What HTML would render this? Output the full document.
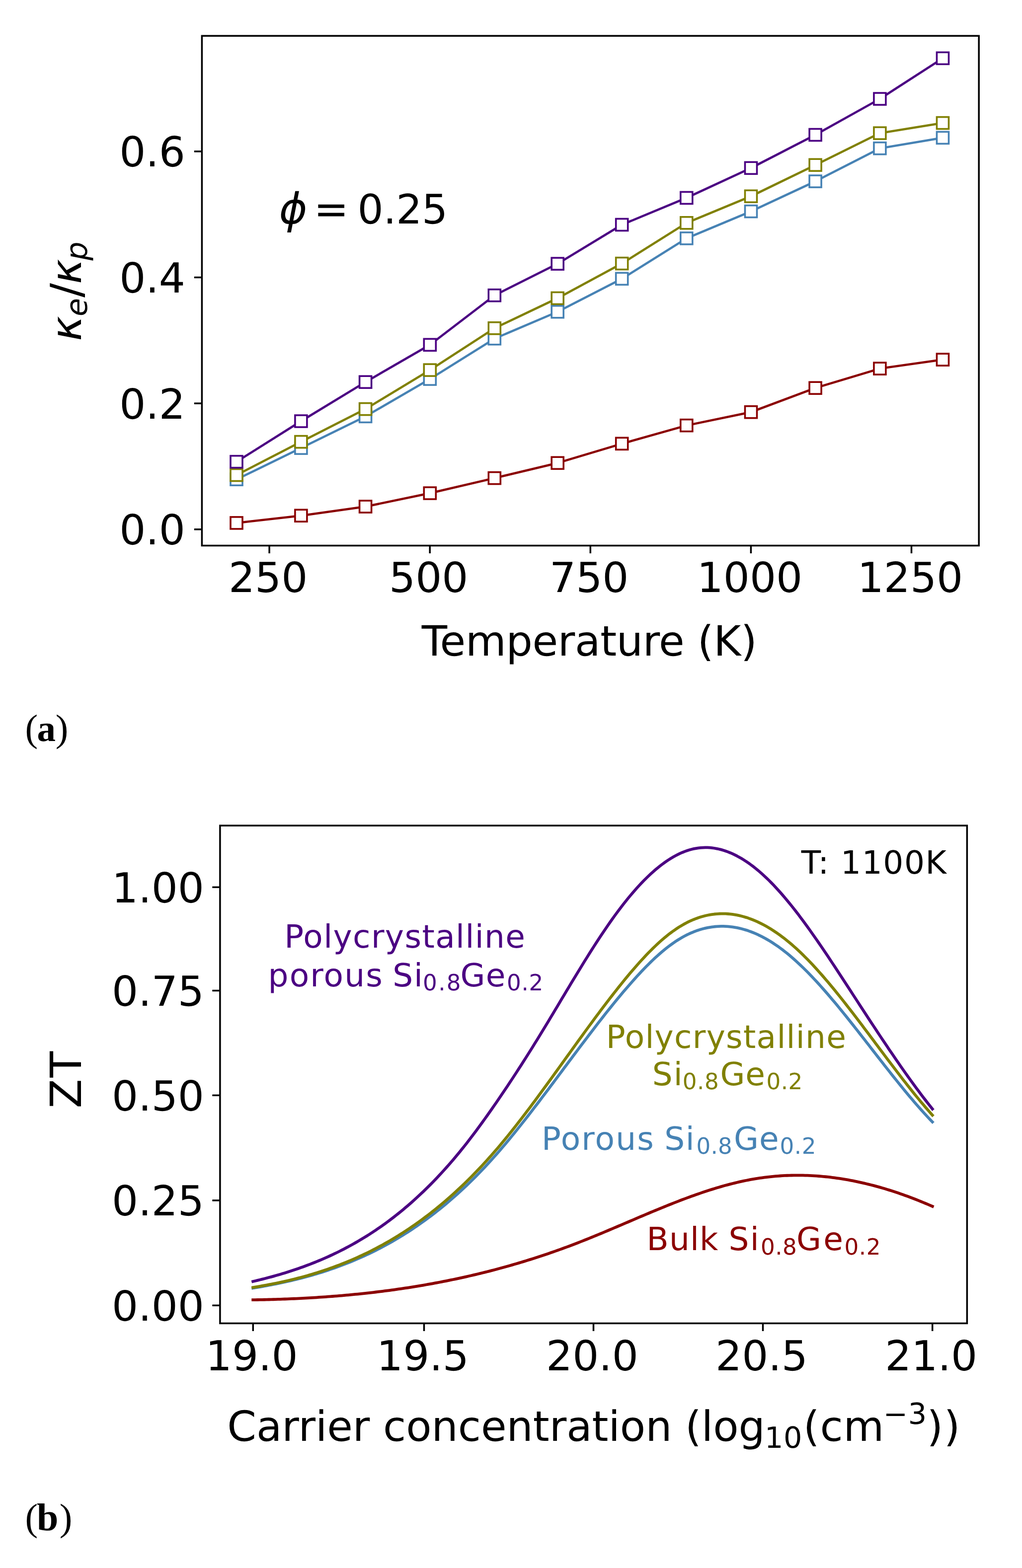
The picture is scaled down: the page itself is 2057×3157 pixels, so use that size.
<!DOCTYPE html>
<html><head><meta charset="utf-8"><title>Figure</title>
<style>
html,body{margin:0;padding:0;background:#fff;}
body{width:2057px;height:3157px;overflow:hidden;}
svg{display:block;}
.t{font-family:'DejaVu Sans', 'Liberation Sans', sans-serif;font-size:83.5px;fill:#000;}
.m{font-family:'DejaVu Sans', 'Liberation Sans', sans-serif;}
text{text-rendering:geometricPrecision;}
</style></head><body>
<svg xmlns="http://www.w3.org/2000/svg" width="2057" height="3157" viewBox="0 0 2057 3157">
<rect x="0" y="0" width="2057" height="3157" fill="#fff"/>
<rect x="406.4" y="72.2" width="1563.8" height="1026.3" fill="none" stroke="#000" stroke-width="3.5" stroke-linejoin="miter"/>
<line x1="390.8" y1="1065.8" x2="406.4" y2="1065.8" stroke="#000" stroke-width="3.5"/>
<text x="373" y="1096.2" text-anchor="end" class="t">0.0</text>
<line x1="390.8" y1="812.16" x2="406.4" y2="812.16" stroke="#000" stroke-width="3.5"/>
<text x="373" y="842.56" text-anchor="end" class="t">0.2</text>
<line x1="390.8" y1="558.52" x2="406.4" y2="558.52" stroke="#000" stroke-width="3.5"/>
<text x="373" y="588.92" text-anchor="end" class="t">0.4</text>
<line x1="390.8" y1="304.88" x2="406.4" y2="304.88" stroke="#000" stroke-width="3.5"/>
<text x="373" y="335.28" text-anchor="end" class="t">0.6</text>
<line x1="542.1" y1="1098.5" x2="542.1" y2="1114.1" stroke="#000" stroke-width="3.5"/>
<text x="539.6" y="1192.1" text-anchor="middle" class="t">250</text>
<line x1="865.2" y1="1098.5" x2="865.2" y2="1114.1" stroke="#000" stroke-width="3.5"/>
<text x="862.7" y="1192.1" text-anchor="middle" class="t">500</text>
<line x1="1188.3" y1="1098.5" x2="1188.3" y2="1114.1" stroke="#000" stroke-width="3.5"/>
<text x="1185.8" y="1192.1" text-anchor="middle" class="t">750</text>
<line x1="1511.4" y1="1098.5" x2="1511.4" y2="1114.1" stroke="#000" stroke-width="3.5"/>
<text x="1508.9" y="1192.1" text-anchor="middle" class="t">1000</text>
<line x1="1834.5" y1="1098.5" x2="1834.5" y2="1114.1" stroke="#000" stroke-width="3.5"/>
<text x="1832" y="1192.1" text-anchor="middle" class="t">1250</text>
<polyline points="476,1052.9 605.9,1038.2 735.6,1020 865.3,993 995.3,962.6 1122.2,932.2 1251.7,893.3 1381.8,856.6 1511.5,829.7 1641.1,781.2 1770.9,742.1 1897.5,724.1" fill="none" stroke="#8b0000" stroke-width="4.5" stroke-linejoin="round" stroke-linecap="square"/>
<rect x="464" y="1040.9" width="24" height="24" fill="#fff" stroke="#8b0000" stroke-width="3.6"/>
<rect x="593.9" y="1026.2" width="24" height="24" fill="#fff" stroke="#8b0000" stroke-width="3.6"/>
<rect x="723.6" y="1008" width="24" height="24" fill="#fff" stroke="#8b0000" stroke-width="3.6"/>
<rect x="853.3" y="981" width="24" height="24" fill="#fff" stroke="#8b0000" stroke-width="3.6"/>
<rect x="983.3" y="950.6" width="24" height="24" fill="#fff" stroke="#8b0000" stroke-width="3.6"/>
<rect x="1110.2" y="920.2" width="24" height="24" fill="#fff" stroke="#8b0000" stroke-width="3.6"/>
<rect x="1239.7" y="881.3" width="24" height="24" fill="#fff" stroke="#8b0000" stroke-width="3.6"/>
<rect x="1369.8" y="844.6" width="24" height="24" fill="#fff" stroke="#8b0000" stroke-width="3.6"/>
<rect x="1499.5" y="817.7" width="24" height="24" fill="#fff" stroke="#8b0000" stroke-width="3.6"/>
<rect x="1629.1" y="769.2" width="24" height="24" fill="#fff" stroke="#8b0000" stroke-width="3.6"/>
<rect x="1758.9" y="730.1" width="24" height="24" fill="#fff" stroke="#8b0000" stroke-width="3.6"/>
<rect x="1885.5" y="712.1" width="24" height="24" fill="#fff" stroke="#8b0000" stroke-width="3.6"/>
<polyline points="476,965.2 605.9,902.1 735.6,838.4 865.3,763.1 995.3,681.8 1122.2,627.8 1251.7,561.3 1381.8,479.9 1511.5,425.6 1641.1,365.1 1770.9,298.7 1897.5,277.4" fill="none" stroke="#4682b4" stroke-width="4.5" stroke-linejoin="round" stroke-linecap="square"/>
<rect x="464" y="953.2" width="24" height="24" fill="#fff" stroke="#4682b4" stroke-width="3.6"/>
<rect x="593.9" y="890.1" width="24" height="24" fill="#fff" stroke="#4682b4" stroke-width="3.6"/>
<rect x="723.6" y="826.4" width="24" height="24" fill="#fff" stroke="#4682b4" stroke-width="3.6"/>
<rect x="853.3" y="751.1" width="24" height="24" fill="#fff" stroke="#4682b4" stroke-width="3.6"/>
<rect x="983.3" y="669.8" width="24" height="24" fill="#fff" stroke="#4682b4" stroke-width="3.6"/>
<rect x="1110.2" y="615.8" width="24" height="24" fill="#fff" stroke="#4682b4" stroke-width="3.6"/>
<rect x="1239.7" y="549.3" width="24" height="24" fill="#fff" stroke="#4682b4" stroke-width="3.6"/>
<rect x="1369.8" y="467.9" width="24" height="24" fill="#fff" stroke="#4682b4" stroke-width="3.6"/>
<rect x="1499.5" y="413.6" width="24" height="24" fill="#fff" stroke="#4682b4" stroke-width="3.6"/>
<rect x="1629.1" y="353.1" width="24" height="24" fill="#fff" stroke="#4682b4" stroke-width="3.6"/>
<rect x="1758.9" y="286.7" width="24" height="24" fill="#fff" stroke="#4682b4" stroke-width="3.6"/>
<rect x="1885.5" y="265.4" width="24" height="24" fill="#fff" stroke="#4682b4" stroke-width="3.6"/>
<polyline points="476,956.5 605.9,889.6 735.6,823.6 865.3,745.1 995.3,660.8 1122.2,600.4 1251.7,530.6 1381.8,448.8 1511.5,395.2 1641.1,332.2 1770.9,268.1 1897.5,247.6" fill="none" stroke="#808000" stroke-width="4.5" stroke-linejoin="round" stroke-linecap="square"/>
<rect x="464" y="944.5" width="24" height="24" fill="#fff" stroke="#808000" stroke-width="3.6"/>
<rect x="593.9" y="877.6" width="24" height="24" fill="#fff" stroke="#808000" stroke-width="3.6"/>
<rect x="723.6" y="811.6" width="24" height="24" fill="#fff" stroke="#808000" stroke-width="3.6"/>
<rect x="853.3" y="733.1" width="24" height="24" fill="#fff" stroke="#808000" stroke-width="3.6"/>
<rect x="983.3" y="648.8" width="24" height="24" fill="#fff" stroke="#808000" stroke-width="3.6"/>
<rect x="1110.2" y="588.4" width="24" height="24" fill="#fff" stroke="#808000" stroke-width="3.6"/>
<rect x="1239.7" y="518.6" width="24" height="24" fill="#fff" stroke="#808000" stroke-width="3.6"/>
<rect x="1369.8" y="436.8" width="24" height="24" fill="#fff" stroke="#808000" stroke-width="3.6"/>
<rect x="1499.5" y="383.2" width="24" height="24" fill="#fff" stroke="#808000" stroke-width="3.6"/>
<rect x="1629.1" y="320.2" width="24" height="24" fill="#fff" stroke="#808000" stroke-width="3.6"/>
<rect x="1758.9" y="256.1" width="24" height="24" fill="#fff" stroke="#808000" stroke-width="3.6"/>
<rect x="1885.5" y="235.6" width="24" height="24" fill="#fff" stroke="#808000" stroke-width="3.6"/>
<polyline points="476,929.7 605.9,848 735.6,769.2 865.3,694.3 995.3,594.7 1122.2,531.1 1251.7,452.5 1381.8,398.4 1511.5,338.3 1641.1,271.5 1770.9,199.1 1897.5,117.3" fill="none" stroke="#4b0082" stroke-width="4.5" stroke-linejoin="round" stroke-linecap="square"/>
<rect x="464" y="917.7" width="24" height="24" fill="#fff" stroke="#4b0082" stroke-width="3.6"/>
<rect x="593.9" y="836" width="24" height="24" fill="#fff" stroke="#4b0082" stroke-width="3.6"/>
<rect x="723.6" y="757.2" width="24" height="24" fill="#fff" stroke="#4b0082" stroke-width="3.6"/>
<rect x="853.3" y="682.3" width="24" height="24" fill="#fff" stroke="#4b0082" stroke-width="3.6"/>
<rect x="983.3" y="582.7" width="24" height="24" fill="#fff" stroke="#4b0082" stroke-width="3.6"/>
<rect x="1110.2" y="519.1" width="24" height="24" fill="#fff" stroke="#4b0082" stroke-width="3.6"/>
<rect x="1239.7" y="440.5" width="24" height="24" fill="#fff" stroke="#4b0082" stroke-width="3.6"/>
<rect x="1369.8" y="386.4" width="24" height="24" fill="#fff" stroke="#4b0082" stroke-width="3.6"/>
<rect x="1499.5" y="326.3" width="24" height="24" fill="#fff" stroke="#4b0082" stroke-width="3.6"/>
<rect x="1629.1" y="259.5" width="24" height="24" fill="#fff" stroke="#4b0082" stroke-width="3.6"/>
<rect x="1758.9" y="187.1" width="24" height="24" fill="#fff" stroke="#4b0082" stroke-width="3.6"/>
<rect x="1885.5" y="105.3" width="24" height="24" fill="#fff" stroke="#4b0082" stroke-width="3.6"/>
<text x="561.83" y="450.00" style="font-family:DejaVu Sans, Liberation Sans, sans-serif;font-size:86.00px;font-style:italic;">&#981;</text>
<text x="631.60" y="450.00" style="font-family:DejaVu Sans, Liberation Sans, sans-serif;font-size:84.00px;">=</text>
<text x="719.59" y="450.00" style="font-family:DejaVu Sans, Liberation Sans, sans-serif;font-size:82.00px;letter-spacing:-0.33px;">0.25</text>
<text x="848.85" y="1320.00" style="font-family:DejaVu Sans, Liberation Sans, sans-serif;font-size:84.00px;letter-spacing:-0.32px;">Temperature (K)</text>
<g transform="translate(163.20,700.00) rotate(-90)"><text x="13.20" y="0.00" style="font-family:DejaVu Sans, Liberation Sans, sans-serif;font-size:85.00px;font-style:italic;">&#954;</text><text x="63.04" y="11.80" style="font-family:DejaVu Sans, Liberation Sans, sans-serif;font-size:60.00px;font-style:italic;">e</text><text x="101.10" y="0.00" style="font-family:DejaVu Sans, Liberation Sans, sans-serif;font-size:86.00px;">/</text><text x="127.90" y="0.00" style="font-family:DejaVu Sans, Liberation Sans, sans-serif;font-size:85.00px;font-style:italic;">&#954;</text><text x="175.58" y="11.80" style="font-family:DejaVu Sans, Liberation Sans, sans-serif;font-size:60.00px;font-style:italic;">p</text></g>
<text x="50.51" y="1491.50" style="font-family:Liberation Serif, DejaVu Serif, serif;font-size:77.00px;">(</text>
<text x="74.50" y="1491.50" style="font-family:Liberation Serif, DejaVu Serif, serif;font-size:75.00px;font-weight:bold;">a</text>
<text x="111.64" y="1491.50" style="font-family:Liberation Serif, DejaVu Serif, serif;font-size:77.00px;">)</text>
<rect x="442.9" y="1662.2" width="1503.5" height="1002.2" fill="none" stroke="#000" stroke-width="3.5"/>
<line x1="427.3" y1="2628.3" x2="442.9" y2="2628.3" stroke="#000" stroke-width="3.5"/>
<text x="410.99" y="2658.7" text-anchor="end" class="t">0.00</text>
<line x1="427.3" y1="2416.9" x2="442.9" y2="2416.9" stroke="#000" stroke-width="3.5"/>
<text x="410.99" y="2447.3" text-anchor="end" class="t">0.25</text>
<line x1="427.3" y1="2205.3" x2="442.9" y2="2205.3" stroke="#000" stroke-width="3.5"/>
<text x="410.99" y="2235.7" text-anchor="end" class="t">0.50</text>
<line x1="427.3" y1="1994.5" x2="442.9" y2="1994.5" stroke="#000" stroke-width="3.5"/>
<text x="410.99" y="2024.9" text-anchor="end" class="t">0.75</text>
<line x1="427.3" y1="1786.3" x2="442.9" y2="1786.3" stroke="#000" stroke-width="3.5"/>
<text x="410.99" y="1816.7" text-anchor="end" class="t">1.00</text>
<line x1="509.3" y1="2664.4" x2="509.3" y2="2680" stroke="#000" stroke-width="3.5"/>
<text x="506.8" y="2758.5" text-anchor="middle" class="t">19.0</text>
<line x1="853.5" y1="2664.4" x2="853.5" y2="2680" stroke="#000" stroke-width="3.5"/>
<text x="851" y="2758.5" text-anchor="middle" class="t">19.5</text>
<line x1="1194.5" y1="2664.4" x2="1194.5" y2="2680" stroke="#000" stroke-width="3.5"/>
<text x="1192" y="2758.5" text-anchor="middle" class="t">20.0</text>
<line x1="1535.5" y1="2664.4" x2="1535.5" y2="2680" stroke="#000" stroke-width="3.5"/>
<text x="1533" y="2758.5" text-anchor="middle" class="t">20.5</text>
<line x1="1876.7" y1="2664.4" x2="1876.7" y2="2680" stroke="#000" stroke-width="3.5"/>
<text x="1874.2" y="2758.5" text-anchor="middle" class="t">21.0</text>
<path d="M509.2,2617.16 L513.77,2617.09 L518.35,2617.01 L522.92,2616.92 L527.49,2616.83 L532.07,2616.73 L536.64,2616.62 L541.22,2616.51 L545.79,2616.39 L550.36,2616.26 L554.94,2616.12 L559.51,2615.97 L564.08,2615.82 L568.66,2615.66 L573.23,2615.49 L577.8,2615.32 L582.38,2615.13 L586.95,2614.94 L591.52,2614.74 L596.1,2614.53 L600.67,2614.31 L605.25,2614.09 L609.82,2613.85 L614.39,2613.61 L618.97,2613.36 L623.54,2613.1 L628.11,2612.83 L632.69,2612.55 L637.26,2612.27 L641.83,2611.97 L646.41,2611.67 L650.98,2611.36 L655.55,2611.03 L660.13,2610.7 L664.7,2610.36 L669.28,2610.01 L673.85,2609.65 L678.42,2609.28 L683,2608.91 L687.57,2608.52 L692.14,2608.12 L696.72,2607.71 L701.29,2607.3 L705.86,2606.87 L710.44,2606.43 L715.01,2605.98 L719.58,2605.53 L724.16,2605.06 L728.73,2604.58 L733.31,2604.09 L737.88,2603.59 L742.45,2603.09 L747.03,2602.57 L751.6,2602.04 L756.17,2601.5 L760.75,2600.94 L765.32,2600.38 L769.89,2599.81 L774.47,2599.22 L779.04,2598.63 L783.61,2598.02 L788.19,2597.41 L792.76,2596.78 L797.34,2596.14 L801.91,2595.49 L806.48,2594.82 L811.06,2594.15 L815.63,2593.46 L820.2,2592.77 L824.78,2592.06 L829.35,2591.34 L833.92,2590.6 L838.5,2589.86 L843.07,2589.1 L847.64,2588.34 L852.22,2587.55 L856.79,2586.76 L861.37,2585.96 L865.94,2585.14 L870.51,2584.31 L875.09,2583.47 L879.66,2582.61 L884.23,2581.74 L888.81,2580.86 L893.38,2579.97 L897.95,2579.06 L902.53,2578.15 L907.1,2577.21 L911.67,2576.27 L916.25,2575.31 L920.82,2574.34 L925.4,2573.36 L929.97,2572.36 L934.54,2571.35 L939.12,2570.32 L943.69,2569.28 L948.26,2568.23 L952.84,2567.17 L957.41,2566.09 L961.98,2565 L966.56,2563.89 L971.13,2562.77 L975.71,2561.63 L980.28,2560.49 L984.85,2559.32 L989.43,2558.15 L994,2556.95 L998.57,2555.75 L1003.15,2554.53 L1007.72,2553.29 L1012.29,2552.04 L1016.87,2550.78 L1021.44,2549.5 L1026.01,2548.21 L1030.59,2546.9 L1035.16,2545.58 L1039.74,2544.24 L1044.31,2542.89 L1048.88,2541.52 L1053.46,2540.13 L1058.03,2538.74 L1062.6,2537.32 L1067.18,2535.89 L1071.75,2534.45 L1076.32,2532.99 L1080.9,2531.51 L1085.47,2530.02 L1090.04,2528.51 L1094.62,2526.99 L1099.19,2525.45 L1103.77,2523.89 L1108.34,2522.32 L1112.91,2520.73 L1117.49,2519.13 L1122.06,2517.51 L1126.63,2515.87 L1131.21,2514.22 L1135.78,2512.55 L1140.35,2510.87 L1144.93,2509.16 L1149.5,2507.45 L1154.07,2505.71 L1158.65,2503.96 L1163.22,2502.19 L1167.8,2500.4 L1172.37,2498.6 L1176.94,2496.79 L1181.52,2494.96 L1186.09,2493.11 L1190.66,2491.26 L1195.24,2489.39 L1199.81,2487.51 L1204.38,2485.62 L1208.96,2483.72 L1213.53,2481.81 L1218.1,2479.9 L1222.68,2477.97 L1227.25,2476.04 L1231.83,2474.11 L1236.4,2472.17 L1240.97,2470.22 L1245.55,2468.27 L1250.12,2466.32 L1254.69,2464.37 L1259.27,2462.42 L1263.84,2460.46 L1268.41,2458.51 L1272.99,2456.55 L1277.56,2454.6 L1282.13,2452.65 L1286.71,2450.7 L1291.28,2448.76 L1295.86,2446.82 L1300.43,2444.89 L1305,2442.96 L1309.58,2441.04 L1314.15,2439.13 L1318.72,2437.23 L1323.3,2435.34 L1327.87,2433.45 L1332.44,2431.58 L1337.02,2429.72 L1341.59,2427.87 L1346.16,2426.03 L1350.74,2424.21 L1355.31,2422.4 L1359.89,2420.61 L1364.46,2418.84 L1369.03,2417.08 L1373.61,2415.33 L1378.18,2413.61 L1382.75,2411.9 L1387.33,2410.22 L1391.9,2408.56 L1396.47,2406.91 L1401.05,2405.29 L1405.62,2403.69 L1410.19,2402.12 L1414.77,2400.57 L1419.34,2399.04 L1423.92,2397.54 L1428.49,2396.07 L1433.06,2394.63 L1437.64,2393.21 L1442.21,2391.82 L1446.78,2390.46 L1451.36,2389.13 L1455.93,2387.83 L1460.5,2386.57 L1465.08,2385.34 L1469.65,2384.14 L1474.23,2382.97 L1478.8,2381.84 L1483.37,2380.75 L1487.95,2379.69 L1492.52,2378.66 L1497.09,2377.68 L1501.67,2376.74 L1506.24,2375.83 L1510.81,2374.97 L1515.39,2374.14 L1519.96,2373.36 L1524.53,2372.62 L1529.11,2371.92 L1533.68,2371.26 L1538.26,2370.65 L1542.83,2370.08 L1547.4,2369.54 L1551.98,2369.05 L1556.55,2368.61 L1561.12,2368.2 L1565.7,2367.83 L1570.27,2367.5 L1574.84,2367.22 L1579.42,2366.97 L1583.99,2366.77 L1588.56,2366.6 L1593.14,2366.48 L1597.71,2366.39 L1602.29,2366.34 L1606.86,2366.34 L1611.43,2366.37 L1616.01,2366.44 L1620.58,2366.55 L1625.15,2366.69 L1629.73,2366.88 L1634.3,2367.1 L1638.87,2367.36 L1643.45,2367.66 L1648.02,2368 L1652.59,2368.38 L1657.17,2368.79 L1661.74,2369.24 L1666.32,2369.72 L1670.89,2370.24 L1675.46,2370.8 L1680.04,2371.4 L1684.61,2372.03 L1689.18,2372.7 L1693.76,2373.4 L1698.33,2374.14 L1702.9,2374.91 L1707.48,2375.72 L1712.05,2376.57 L1716.62,2377.45 L1721.2,2378.36 L1725.77,2379.31 L1730.35,2380.29 L1734.92,2381.31 L1739.49,2382.36 L1744.07,2383.45 L1748.64,2384.57 L1753.21,2385.72 L1757.79,2386.91 L1762.36,2388.13 L1766.93,2389.38 L1771.51,2390.66 L1776.08,2391.98 L1780.65,2393.33 L1785.23,2394.71 L1789.8,2396.13 L1794.38,2397.57 L1798.95,2399.05 L1803.52,2400.56 L1808.1,2402.1 L1812.67,2403.67 L1817.24,2405.27 L1821.82,2406.91 L1826.39,2408.57 L1830.96,2410.27 L1835.54,2411.99 L1840.11,2413.75 L1844.68,2415.53 L1849.26,2417.35 L1853.83,2419.19 L1858.41,2421.06 L1862.98,2422.97 L1867.55,2424.9 L1872.13,2426.86 L1876.7,2428.85" fill="none" stroke="#8b0000" stroke-width="5.8" stroke-linejoin="round" stroke-linecap="square"/>
<path d="M509.2,2593.35 L513.77,2592.6 L518.35,2591.84 L522.92,2591.06 L527.49,2590.27 L532.07,2589.45 L536.64,2588.62 L541.22,2587.77 L545.79,2586.9 L550.36,2586.01 L554.94,2585.1 L559.51,2584.17 L564.08,2583.21 L568.66,2582.24 L573.23,2581.24 L577.8,2580.22 L582.38,2579.18 L586.95,2578.11 L591.52,2577.02 L596.1,2575.9 L600.67,2574.76 L605.25,2573.59 L609.82,2572.4 L614.39,2571.18 L618.97,2569.93 L623.54,2568.66 L628.11,2567.36 L632.69,2566.02 L637.26,2564.66 L641.83,2563.28 L646.41,2561.86 L650.98,2560.41 L655.55,2558.93 L660.13,2557.41 L664.7,2555.87 L669.28,2554.29 L673.85,2552.68 L678.42,2551.04 L683,2549.36 L687.57,2547.65 L692.14,2545.91 L696.72,2544.13 L701.29,2542.31 L705.86,2540.46 L710.44,2538.57 L715.01,2536.64 L719.58,2534.68 L724.16,2532.68 L728.73,2530.64 L733.31,2528.56 L737.88,2526.44 L742.45,2524.28 L747.03,2522.08 L751.6,2519.84 L756.17,2517.56 L760.75,2515.23 L765.32,2512.86 L769.89,2510.46 L774.47,2508 L779.04,2505.51 L783.61,2502.97 L788.19,2500.38 L792.76,2497.75 L797.34,2495.07 L801.91,2492.35 L806.48,2489.58 L811.06,2486.76 L815.63,2483.9 L820.2,2480.99 L824.78,2478.03 L829.35,2475.02 L833.92,2471.96 L838.5,2468.85 L843.07,2465.69 L847.64,2462.48 L852.22,2459.21 L856.79,2455.9 L861.37,2452.53 L865.94,2449.11 L870.51,2445.64 L875.09,2442.11 L879.66,2438.53 L884.23,2434.89 L888.81,2431.2 L893.38,2427.45 L897.95,2423.65 L902.53,2419.79 L907.1,2415.87 L911.67,2411.9 L916.25,2407.86 L920.82,2403.77 L925.4,2399.62 L929.97,2395.41 L934.54,2391.14 L939.12,2386.8 L943.69,2382.41 L948.26,2377.96 L952.84,2373.44 L957.41,2368.86 L961.98,2364.22 L966.56,2359.52 L971.13,2354.75 L975.71,2349.91 L980.28,2345.02 L984.85,2340.05 L989.43,2335.02 L994,2329.93 L998.57,2324.77 L1003.15,2319.54 L1007.72,2314.26 L1012.29,2308.91 L1016.87,2303.51 L1021.44,2298.06 L1026.01,2292.55 L1030.59,2286.99 L1035.16,2281.38 L1039.74,2275.73 L1044.31,2270.03 L1048.88,2264.3 L1053.46,2258.52 L1058.03,2252.7 L1062.6,2246.85 L1067.18,2240.96 L1071.75,2235.05 L1076.32,2229.1 L1080.9,2223.13 L1085.47,2217.13 L1090.04,2211.11 L1094.62,2205.06 L1099.19,2199 L1103.77,2192.93 L1108.34,2186.83 L1112.91,2180.73 L1117.49,2174.62 L1122.06,2168.49 L1126.63,2162.37 L1131.21,2156.24 L1135.78,2150.1 L1140.35,2143.97 L1144.93,2137.84 L1149.5,2131.71 L1154.07,2125.59 L1158.65,2119.48 L1163.22,2113.38 L1167.8,2107.3 L1172.37,2101.23 L1176.94,2095.17 L1181.52,2089.14 L1186.09,2083.13 L1190.66,2077.14 L1195.24,2071.18 L1199.81,2065.24 L1204.38,2059.34 L1208.96,2053.47 L1213.53,2047.63 L1218.1,2041.83 L1222.68,2036.07 L1227.25,2030.34 L1231.83,2024.66 L1236.4,2019.03 L1240.97,2013.44 L1245.55,2007.9 L1250.12,2002.42 L1254.69,1996.99 L1259.27,1991.61 L1263.84,1986.29 L1268.41,1981.03 L1272.99,1975.84 L1277.56,1970.71 L1282.13,1965.66 L1286.71,1960.69 L1291.28,1955.8 L1295.86,1951.01 L1300.43,1946.3 L1305,1941.69 L1309.58,1937.17 L1314.15,1932.77 L1318.72,1928.47 L1323.3,1924.29 L1327.87,1920.22 L1332.44,1916.28 L1337.02,1912.47 L1341.59,1908.78 L1346.16,1905.23 L1350.74,1901.83 L1355.31,1898.56 L1359.89,1895.45 L1364.46,1892.49 L1369.03,1889.68 L1373.61,1887.03 L1378.18,1884.54 L1382.75,1882.19 L1387.33,1880 L1391.9,1877.96 L1396.47,1876.08 L1401.05,1874.34 L1405.62,1872.75 L1410.19,1871.31 L1414.77,1870.02 L1419.34,1868.88 L1423.92,1867.88 L1428.49,1867.03 L1433.06,1866.32 L1437.64,1865.76 L1442.21,1865.34 L1446.78,1865.06 L1451.36,1864.93 L1455.93,1864.94 L1460.5,1865.08 L1465.08,1865.37 L1469.65,1865.79 L1474.23,1866.36 L1478.8,1867.06 L1483.37,1867.9 L1487.95,1868.87 L1492.52,1869.98 L1497.09,1871.22 L1501.67,1872.6 L1506.24,1874.11 L1510.81,1875.75 L1515.39,1877.52 L1519.96,1879.42 L1524.53,1881.46 L1529.11,1883.62 L1533.68,1885.91 L1538.26,1888.32 L1542.83,1890.87 L1547.4,1893.54 L1551.98,1896.33 L1556.55,1899.25 L1561.12,1902.29 L1565.7,1905.46 L1570.27,1908.74 L1574.84,1912.15 L1579.42,1915.68 L1583.99,1919.33 L1588.56,1923.1 L1593.14,1926.98 L1597.71,1930.97 L1602.29,1935.07 L1606.86,1939.27 L1611.43,1943.58 L1616.01,1947.98 L1620.58,1952.48 L1625.15,1957.07 L1629.73,1961.75 L1634.3,1966.52 L1638.87,1971.37 L1643.45,1976.3 L1648.02,1981.3 L1652.59,1986.38 L1657.17,1991.53 L1661.74,1996.74 L1666.32,2002.02 L1670.89,2007.36 L1675.46,2012.76 L1680.04,2018.21 L1684.61,2023.71 L1689.18,2029.26 L1693.76,2034.85 L1698.33,2040.49 L1702.9,2046.16 L1707.48,2051.87 L1712.05,2057.61 L1716.62,2063.38 L1721.2,2069.18 L1725.77,2075 L1730.35,2080.84 L1734.92,2086.69 L1739.49,2092.56 L1744.07,2098.44 L1748.64,2104.32 L1753.21,2110.21 L1757.79,2116.1 L1762.36,2121.98 L1766.93,2127.86 L1771.51,2133.73 L1776.08,2139.59 L1780.65,2145.44 L1785.23,2151.26 L1789.8,2157.07 L1794.38,2162.84 L1798.95,2168.59 L1803.52,2174.31 L1808.1,2180 L1812.67,2185.65 L1817.24,2191.25 L1821.82,2196.82 L1826.39,2202.34 L1830.96,2207.8 L1835.54,2213.21 L1840.11,2218.57 L1844.68,2223.87 L1849.26,2229.1 L1853.83,2234.27 L1858.41,2239.37 L1862.98,2244.4 L1867.55,2249.35 L1872.13,2254.23 L1876.7,2259.02" fill="none" stroke="#4682b4" stroke-width="5.8" stroke-linejoin="round" stroke-linecap="square"/>
<path d="M509.2,2592.05 L513.77,2591.31 L518.35,2590.55 L522.92,2589.77 L527.49,2588.98 L532.07,2588.16 L536.64,2587.32 L541.22,2586.46 L545.79,2585.58 L550.36,2584.68 L554.94,2583.75 L559.51,2582.81 L564.08,2581.83 L568.66,2580.84 L573.23,2579.82 L577.8,2578.77 L582.38,2577.7 L586.95,2576.61 L591.52,2575.49 L596.1,2574.34 L600.67,2573.16 L605.25,2571.96 L609.82,2570.73 L614.39,2569.47 L618.97,2568.18 L623.54,2566.86 L628.11,2565.51 L632.69,2564.14 L637.26,2562.73 L641.83,2561.29 L646.41,2559.81 L650.98,2558.31 L655.55,2556.77 L660.13,2555.2 L664.7,2553.6 L669.28,2551.96 L673.85,2550.29 L678.42,2548.59 L683,2546.84 L687.57,2545.07 L692.14,2543.25 L696.72,2541.4 L701.29,2539.51 L705.86,2537.59 L710.44,2535.63 L715.01,2533.62 L719.58,2531.58 L724.16,2529.5 L728.73,2527.38 L733.31,2525.22 L737.88,2523.02 L742.45,2520.78 L747.03,2518.49 L751.6,2516.17 L756.17,2513.8 L760.75,2511.38 L765.32,2508.93 L769.89,2506.43 L774.47,2503.88 L779.04,2501.29 L783.61,2498.66 L788.19,2495.98 L792.76,2493.25 L797.34,2490.47 L801.91,2487.65 L806.48,2484.78 L811.06,2481.87 L815.63,2478.9 L820.2,2475.89 L824.78,2472.82 L829.35,2469.71 L833.92,2466.54 L838.5,2463.33 L843.07,2460.06 L847.64,2456.74 L852.22,2453.37 L856.79,2449.94 L861.37,2446.47 L865.94,2442.94 L870.51,2439.35 L875.09,2435.71 L879.66,2432.02 L884.23,2428.27 L888.81,2424.46 L893.38,2420.6 L897.95,2416.68 L902.53,2412.7 L907.1,2408.67 L911.67,2404.57 L916.25,2400.42 L920.82,2396.21 L925.4,2391.94 L929.97,2387.61 L934.54,2383.22 L939.12,2378.77 L943.69,2374.26 L948.26,2369.68 L952.84,2365.04 L957.41,2360.34 L961.98,2355.58 L966.56,2350.75 L971.13,2345.86 L975.71,2340.9 L980.28,2335.88 L984.85,2330.79 L989.43,2325.64 L994,2320.42 L998.57,2315.14 L1003.15,2309.78 L1007.72,2304.36 L1012.29,2298.88 L1016.87,2293.33 L1021.44,2287.73 L1026.01,2282.07 L1030.59,2276.35 L1035.16,2270.58 L1039.74,2264.76 L1044.31,2258.9 L1048.88,2252.98 L1053.46,2247.03 L1058.03,2241.03 L1062.6,2234.99 L1067.18,2228.92 L1071.75,2222.81 L1076.32,2216.67 L1080.9,2210.5 L1085.47,2204.3 L1090.04,2198.08 L1094.62,2191.83 L1099.19,2185.56 L1103.77,2179.27 L1108.34,2172.97 L1112.91,2166.65 L1117.49,2160.31 L1122.06,2153.97 L1126.63,2147.62 L1131.21,2141.27 L1135.78,2134.91 L1140.35,2128.55 L1144.93,2122.19 L1149.5,2115.84 L1154.07,2109.49 L1158.65,2103.15 L1163.22,2096.82 L1167.8,2090.5 L1172.37,2084.2 L1176.94,2077.91 L1181.52,2071.65 L1186.09,2065.4 L1190.66,2059.18 L1195.24,2052.98 L1199.81,2046.81 L1204.38,2040.67 L1208.96,2034.57 L1213.53,2028.5 L1218.1,2022.47 L1222.68,2016.47 L1227.25,2010.52 L1231.83,2004.61 L1236.4,1998.75 L1240.97,1992.93 L1245.55,1987.17 L1250.12,1981.46 L1254.69,1975.8 L1259.27,1970.21 L1263.84,1964.68 L1268.41,1959.23 L1272.99,1953.84 L1277.56,1948.53 L1282.13,1943.31 L1286.71,1938.17 L1291.28,1933.12 L1295.86,1928.17 L1300.43,1923.31 L1305,1918.56 L1309.58,1913.91 L1314.15,1909.38 L1318.72,1904.96 L1323.3,1900.66 L1327.87,1896.48 L1332.44,1892.44 L1337.02,1888.52 L1341.59,1884.74 L1346.16,1881.1 L1350.74,1877.61 L1355.31,1874.26 L1359.89,1871.07 L1364.46,1868.03 L1369.03,1865.15 L1373.61,1862.43 L1378.18,1859.87 L1382.75,1857.47 L1387.33,1855.22 L1391.9,1853.12 L1396.47,1851.18 L1401.05,1849.4 L1405.62,1847.76 L1410.19,1846.28 L1414.77,1844.95 L1419.34,1843.76 L1423.92,1842.73 L1428.49,1841.84 L1433.06,1841.11 L1437.64,1840.51 L1442.21,1840.07 L1446.78,1839.77 L1451.36,1839.61 L1455.93,1839.59 L1460.5,1839.72 L1465.08,1839.99 L1469.65,1840.4 L1474.23,1840.94 L1478.8,1841.63 L1483.37,1842.45 L1487.95,1843.42 L1492.52,1844.51 L1497.09,1845.74 L1501.67,1847.11 L1506.24,1848.61 L1510.81,1850.25 L1515.39,1852.01 L1519.96,1853.91 L1524.53,1855.93 L1529.11,1858.09 L1533.68,1860.37 L1538.26,1862.78 L1542.83,1865.32 L1547.4,1867.98 L1551.98,1870.77 L1556.55,1873.68 L1561.12,1876.72 L1565.7,1879.88 L1570.27,1883.16 L1574.84,1886.56 L1579.42,1890.07 L1583.99,1893.71 L1588.56,1897.47 L1593.14,1901.34 L1597.71,1905.33 L1602.29,1909.44 L1606.86,1913.66 L1611.43,1917.98 L1616.01,1922.41 L1620.58,1926.94 L1625.15,1931.58 L1629.73,1936.3 L1634.3,1941.12 L1638.87,1946.03 L1643.45,1951.03 L1648.02,1956.11 L1652.59,1961.26 L1657.17,1966.5 L1661.74,1971.81 L1666.32,1977.18 L1670.89,1982.63 L1675.46,1988.14 L1680.04,1993.71 L1684.61,1999.33 L1689.18,2005.02 L1693.76,2010.75 L1698.33,2016.53 L1702.9,2022.35 L1707.48,2028.22 L1712.05,2034.12 L1716.62,2040.06 L1721.2,2046.04 L1725.77,2052.04 L1730.35,2058.06 L1734.92,2064.11 L1739.49,2070.18 L1744.07,2076.26 L1748.64,2082.36 L1753.21,2088.47 L1757.79,2094.58 L1762.36,2100.7 L1766.93,2106.81 L1771.51,2112.93 L1776.08,2119.03 L1780.65,2125.13 L1785.23,2131.21 L1789.8,2137.28 L1794.38,2143.33 L1798.95,2149.36 L1803.52,2155.36 L1808.1,2161.34 L1812.67,2167.28 L1817.24,2173.18 L1821.82,2179.05 L1826.39,2184.88 L1830.96,2190.66 L1835.54,2196.4 L1840.11,2202.08 L1844.68,2207.71 L1849.26,2213.28 L1853.83,2218.8 L1858.41,2224.24 L1862.98,2229.63 L1867.55,2234.94 L1872.13,2240.18 L1876.7,2245.34" fill="none" stroke="#808000" stroke-width="5.8" stroke-linejoin="round" stroke-linecap="square"/>
<path d="M509.2,2580.09 L513.77,2579 L518.35,2577.9 L522.92,2576.78 L527.49,2575.64 L532.07,2574.47 L536.64,2573.28 L541.22,2572.07 L545.79,2570.84 L550.36,2569.58 L554.94,2568.3 L559.51,2566.99 L564.08,2565.66 L568.66,2564.29 L573.23,2562.9 L577.8,2561.49 L582.38,2560.04 L586.95,2558.56 L591.52,2557.06 L596.1,2555.52 L600.67,2553.95 L605.25,2552.35 L609.82,2550.71 L614.39,2549.04 L618.97,2547.34 L623.54,2545.6 L628.11,2543.82 L632.69,2542.01 L637.26,2540.16 L641.83,2538.28 L646.41,2536.35 L650.98,2534.39 L655.55,2532.39 L660.13,2530.34 L664.7,2528.26 L669.28,2526.13 L673.85,2523.96 L678.42,2521.74 L683,2519.49 L687.57,2517.18 L692.14,2514.84 L696.72,2512.44 L701.29,2510 L705.86,2507.52 L710.44,2504.98 L715.01,2502.4 L719.58,2499.76 L724.16,2497.08 L728.73,2494.34 L733.31,2491.56 L737.88,2488.72 L742.45,2485.83 L747.03,2482.88 L751.6,2479.89 L756.17,2476.83 L760.75,2473.72 L765.32,2470.56 L769.89,2467.34 L774.47,2464.06 L779.04,2460.72 L783.61,2457.32 L788.19,2453.86 L792.76,2450.35 L797.34,2446.77 L801.91,2443.13 L806.48,2439.43 L811.06,2435.67 L815.63,2431.84 L820.2,2427.94 L824.78,2423.99 L829.35,2419.96 L833.92,2415.87 L838.5,2411.72 L843.07,2407.49 L847.64,2403.2 L852.22,2398.84 L856.79,2394.41 L861.37,2389.9 L865.94,2385.33 L870.51,2380.69 L875.09,2375.97 L879.66,2371.18 L884.23,2366.31 L888.81,2361.37 L893.38,2356.36 L897.95,2351.27 L902.53,2346.1 L907.1,2340.86 L911.67,2335.54 L916.25,2330.13 L920.82,2324.65 L925.4,2319.09 L929.97,2313.45 L934.54,2307.73 L939.12,2301.93 L943.69,2296.05 L948.26,2290.09 L952.84,2284.07 L957.41,2277.97 L961.98,2271.8 L966.56,2265.57 L971.13,2259.27 L975.71,2252.92 L980.28,2246.51 L984.85,2240.04 L989.43,2233.51 L994,2226.94 L998.57,2220.32 L1003.15,2213.66 L1007.72,2206.95 L1012.29,2200.19 L1016.87,2193.39 L1021.44,2186.55 L1026.01,2179.66 L1030.59,2172.73 L1035.16,2165.76 L1039.74,2158.74 L1044.31,2151.68 L1048.88,2144.58 L1053.46,2137.44 L1058.03,2130.25 L1062.6,2123.02 L1067.18,2115.75 L1071.75,2108.44 L1076.32,2101.09 L1080.9,2093.69 L1085.47,2086.26 L1090.04,2078.78 L1094.62,2071.27 L1099.19,2063.72 L1103.77,2056.15 L1108.34,2048.54 L1112.91,2040.92 L1117.49,2033.29 L1122.06,2025.64 L1126.63,2017.99 L1131.21,2010.34 L1135.78,2002.69 L1140.35,1995.05 L1144.93,1987.42 L1149.5,1979.81 L1154.07,1972.23 L1158.65,1964.67 L1163.22,1957.14 L1167.8,1949.65 L1172.37,1942.2 L1176.94,1934.8 L1181.52,1927.44 L1186.09,1920.15 L1190.66,1912.91 L1195.24,1905.74 L1199.81,1898.63 L1204.38,1891.6 L1208.96,1884.65 L1213.53,1877.78 L1218.1,1871.01 L1222.68,1864.32 L1227.25,1857.73 L1231.83,1851.24 L1236.4,1844.86 L1240.97,1838.6 L1245.55,1832.44 L1250.12,1826.41 L1254.69,1820.49 L1259.27,1814.7 L1263.84,1809.03 L1268.41,1803.49 L1272.99,1798.08 L1277.56,1792.8 L1282.13,1787.65 L1286.71,1782.64 L1291.28,1777.76 L1295.86,1773.03 L1300.43,1768.44 L1305,1764 L1309.58,1759.7 L1314.15,1755.55 L1318.72,1751.55 L1323.3,1747.7 L1327.87,1744.02 L1332.44,1740.49 L1337.02,1737.12 L1341.59,1733.91 L1346.16,1730.87 L1350.74,1727.99 L1355.31,1725.29 L1359.89,1722.75 L1364.46,1720.39 L1369.03,1718.21 L1373.61,1716.2 L1378.18,1714.38 L1382.75,1712.74 L1387.33,1711.28 L1391.9,1710.01 L1396.47,1708.93 L1401.05,1708.04 L1405.62,1707.35 L1410.19,1706.85 L1414.77,1706.53 L1419.34,1706.41 L1423.92,1706.47 L1428.49,1706.71 L1433.06,1707.14 L1437.64,1707.75 L1442.21,1708.54 L1446.78,1709.51 L1451.36,1710.65 L1455.93,1711.97 L1460.5,1713.46 L1465.08,1715.12 L1469.65,1716.95 L1474.23,1718.95 L1478.8,1721.11 L1483.37,1723.44 L1487.95,1725.93 L1492.52,1728.58 L1497.09,1731.39 L1501.67,1734.35 L1506.24,1737.47 L1510.81,1740.75 L1515.39,1744.18 L1519.96,1747.76 L1524.53,1751.48 L1529.11,1755.36 L1533.68,1759.38 L1538.26,1763.54 L1542.83,1767.84 L1547.4,1772.29 L1551.98,1776.87 L1556.55,1781.59 L1561.12,1786.44 L1565.7,1791.41 L1570.27,1796.52 L1574.84,1801.74 L1579.42,1807.08 L1583.99,1812.53 L1588.56,1818.09 L1593.14,1823.75 L1597.71,1829.52 L1602.29,1835.38 L1606.86,1841.34 L1611.43,1847.38 L1616.01,1853.51 L1620.58,1859.72 L1625.15,1866.02 L1629.73,1872.38 L1634.3,1878.81 L1638.87,1885.31 L1643.45,1891.88 L1648.02,1898.5 L1652.59,1905.18 L1657.17,1911.9 L1661.74,1918.68 L1666.32,1925.49 L1670.89,1932.35 L1675.46,1939.24 L1680.04,1946.16 L1684.61,1953.11 L1689.18,1960.09 L1693.76,1967.08 L1698.33,1974.09 L1702.9,1981.12 L1707.48,1988.15 L1712.05,1995.18 L1716.62,2002.22 L1721.2,2009.25 L1725.77,2016.29 L1730.35,2023.32 L1734.92,2030.34 L1739.49,2037.35 L1744.07,2044.35 L1748.64,2051.34 L1753.21,2058.31 L1757.79,2065.26 L1762.36,2072.19 L1766.93,2079.11 L1771.51,2085.99 L1776.08,2092.85 L1780.65,2099.69 L1785.23,2106.49 L1789.8,2113.26 L1794.38,2119.99 L1798.95,2126.69 L1803.52,2133.35 L1808.1,2139.96 L1812.67,2146.54 L1817.24,2153.07 L1821.82,2159.55 L1826.39,2165.98 L1830.96,2172.36 L1835.54,2178.68 L1840.11,2184.95 L1844.68,2191.16 L1849.26,2197.31 L1853.83,2203.4 L1858.41,2209.42 L1862.98,2215.37 L1867.55,2221.26 L1872.13,2227.08 L1876.7,2232.82" fill="none" stroke="#4b0082" stroke-width="5.8" stroke-linejoin="round" stroke-linecap="square"/>
<text x="572.28" y="1907.70" style="font-family:DejaVu Sans, Liberation Sans, sans-serif;font-size:64.50px;letter-spacing:1.41px;fill:#4b0082;">Polycrystalline</text>
<text x="539.53" y="1985.50" style="font-family:DejaVu Sans, Liberation Sans, sans-serif;font-size:64.50px;letter-spacing:2.18px;fill:#4b0082;">porous</text>
<text x="790.34" y="1985.50" style="font-family:DejaVu Sans, Liberation Sans, sans-serif;font-size:64.50px;fill:#4b0082;">S</text>
<text x="832.94" y="1985.50" style="font-family:DejaVu Sans, Liberation Sans, sans-serif;font-size:64.50px;fill:#4b0082;">i</text>
<text x="851.12" y="1994.20" style="font-family:DejaVu Sans, Liberation Sans, sans-serif;font-size:45.20px;letter-spacing:2.29px;fill:#4b0082;">0.8</text>
<text x="926.39" y="1985.50" style="font-family:DejaVu Sans, Liberation Sans, sans-serif;font-size:64.50px;fill:#4b0082;">G</text>
<text x="977.65" y="1985.50" style="font-family:DejaVu Sans, Liberation Sans, sans-serif;font-size:64.50px;fill:#4b0082;">e</text>
<text x="1020.12" y="1994.20" style="font-family:DejaVu Sans, Liberation Sans, sans-serif;font-size:45.20px;letter-spacing:0.67px;fill:#4b0082;">0.2</text>
<text x="1219.78" y="2109.70" style="font-family:DejaVu Sans, Liberation Sans, sans-serif;font-size:64.50px;letter-spacing:1.29px;fill:#808000;">Polycrystalline</text>
<text x="1312.84" y="2184.80" style="font-family:DejaVu Sans, Liberation Sans, sans-serif;font-size:64.50px;fill:#808000;">S</text>
<text x="1355.74" y="2184.80" style="font-family:DejaVu Sans, Liberation Sans, sans-serif;font-size:64.50px;fill:#808000;">i</text>
<text x="1373.72" y="2193.40" style="font-family:DejaVu Sans, Liberation Sans, sans-serif;font-size:45.20px;letter-spacing:0.54px;fill:#808000;">0.8</text>
<text x="1449.39" y="2184.80" style="font-family:DejaVu Sans, Liberation Sans, sans-serif;font-size:64.50px;fill:#808000;">G</text>
<text x="1500.35" y="2184.80" style="font-family:DejaVu Sans, Liberation Sans, sans-serif;font-size:64.50px;fill:#808000;">e</text>
<text x="1542.52" y="2193.40" style="font-family:DejaVu Sans, Liberation Sans, sans-serif;font-size:45.20px;letter-spacing:0.47px;fill:#808000;">0.2</text>
<text x="1090.08" y="2314.60" style="font-family:DejaVu Sans, Liberation Sans, sans-serif;font-size:64.50px;letter-spacing:2.11px;fill:#4682b4;">Porous</text>
<text x="1337.24" y="2314.60" style="font-family:DejaVu Sans, Liberation Sans, sans-serif;font-size:64.50px;fill:#4682b4;">S</text>
<text x="1379.74" y="2314.60" style="font-family:DejaVu Sans, Liberation Sans, sans-serif;font-size:64.50px;fill:#4682b4;">i</text>
<text x="1401.42" y="2323.20" style="font-family:DejaVu Sans, Liberation Sans, sans-serif;font-size:45.20px;letter-spacing:0.29px;fill:#4682b4;">0.8</text>
<text x="1476.89" y="2314.60" style="font-family:DejaVu Sans, Liberation Sans, sans-serif;font-size:64.50px;fill:#4682b4;">G</text>
<text x="1527.95" y="2314.60" style="font-family:DejaVu Sans, Liberation Sans, sans-serif;font-size:64.50px;fill:#4682b4;">e</text>
<text x="1569.52" y="2323.20" style="font-family:DejaVu Sans, Liberation Sans, sans-serif;font-size:45.20px;letter-spacing:0.52px;fill:#4682b4;">0.2</text>
<text x="1301.48" y="2516.80" style="font-family:DejaVu Sans, Liberation Sans, sans-serif;font-size:64.50px;letter-spacing:1.20px;fill:#8b0000;">Bulk</text>
<text x="1466.54" y="2516.80" style="font-family:DejaVu Sans, Liberation Sans, sans-serif;font-size:64.50px;fill:#8b0000;">S</text>
<text x="1509.74" y="2516.80" style="font-family:DejaVu Sans, Liberation Sans, sans-serif;font-size:64.50px;fill:#8b0000;">i</text>
<text x="1531.02" y="2525.50" style="font-family:DejaVu Sans, Liberation Sans, sans-serif;font-size:45.20px;letter-spacing:0.49px;fill:#8b0000;">0.8</text>
<text x="1603.09" y="2516.80" style="font-family:DejaVu Sans, Liberation Sans, sans-serif;font-size:64.50px;fill:#8b0000;">G</text>
<text x="1657.35" y="2516.80" style="font-family:DejaVu Sans, Liberation Sans, sans-serif;font-size:64.50px;fill:#8b0000;">e</text>
<text x="1699.52" y="2525.50" style="font-family:DejaVu Sans, Liberation Sans, sans-serif;font-size:45.20px;letter-spacing:0.52px;fill:#8b0000;">0.2</text>
<text x="1612.69" y="1758.90" style="font-family:DejaVu Sans, Liberation Sans, sans-serif;font-size:64.50px;letter-spacing:1.60px;">T: 1100K</text>
<text x="457.30" y="2900.70" style="font-family:DejaVu Sans, Liberation Sans, sans-serif;font-size:84.00px;letter-spacing:-0.03px;">Carrier concentration (log</text>
<text x="1539.03" y="2915.10" style="font-family:DejaVu Sans, Liberation Sans, sans-serif;font-size:58.80px;letter-spacing:0.66px;">10</text>
<text x="1616.68" y="2900.70" style="font-family:DejaVu Sans, Liberation Sans, sans-serif;font-size:84.00px;letter-spacing:0.99px;">(cm</text>
<text x="1777.77" y="2867.10" style="font-family:DejaVu Sans, Liberation Sans, sans-serif;font-size:58.80px;letter-spacing:0.77px;">&#8722;3</text>
<text x="1865.58" y="2900.70" style="font-family:DejaVu Sans, Liberation Sans, sans-serif;font-size:84.00px;letter-spacing:1.32px;">))</text>
<g transform="translate(162.90,2240.00) rotate(-90)"><text x="8.51" y="0.00" style="font-family:DejaVu Sans, Liberation Sans, sans-serif;font-size:86.50px;letter-spacing:2.83px;">ZT</text></g>
<text x="50.51" y="3081.00" style="font-family:Liberation Serif, DejaVu Serif, serif;font-size:77.00px;">(</text>
<text x="73.89" y="3081.00" style="font-family:Liberation Serif, DejaVu Serif, serif;font-size:78.00px;font-weight:bold;">b</text>
<text x="119.84" y="3081.00" style="font-family:Liberation Serif, DejaVu Serif, serif;font-size:77.00px;">)</text>
</svg>
</body></html>
